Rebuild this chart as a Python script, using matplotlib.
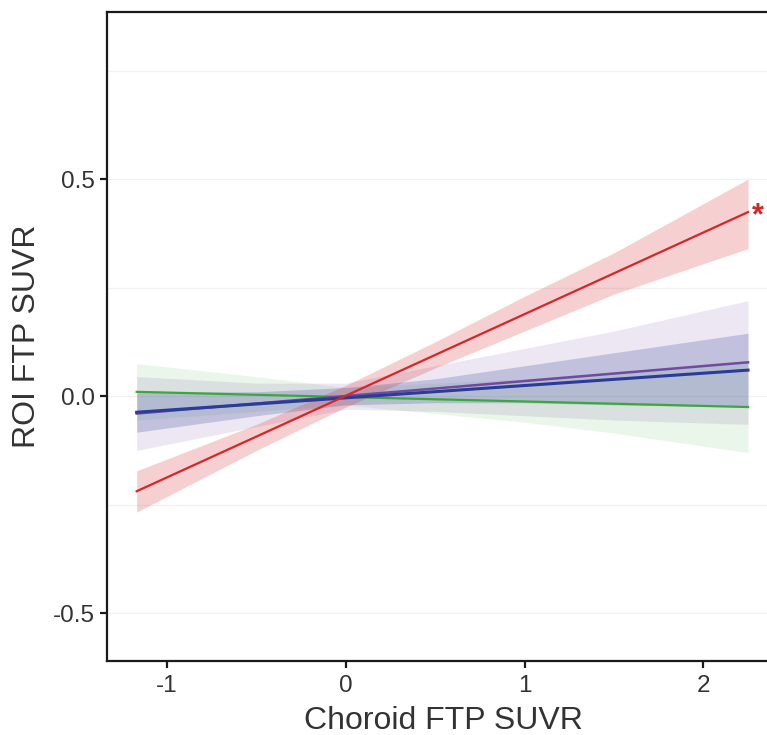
# plot.py - ROI FTP SUVR vs choroid FTP SUVR, fitted lines with CI bands

import matplotlib.pyplot as plt

plt.rcParams['font.family'] = ['Liberation Sans', 'DejaVu Sans']
plt.rcParams['axes.unicode_minus'] = False

# line end points (x range of the fits)
x_fit = [-1.17, 2.25]
red_fit = [-0.219, 0.424]
green_fit = [0.010, -0.025]
blue_fit = [-0.037, 0.060]
purple_fit = [-0.040, 0.078]

# confidence bands read at a few x positions
x_band = [-1.17, -0.5, 0.0, 0.5, 1.0, 1.5, 2.25]
red_lo = [-0.267, -0.125, -0.025, 0.065, 0.150, 0.235, 0.340]
red_hi = [-0.172, -0.065, 0.025, 0.125, 0.230, 0.330, 0.500]
blue_lo = [-0.083, -0.045, -0.020, -0.015, -0.015, -0.020, -0.025]
blue_hi = [0.010, 0.010, 0.020, 0.040, 0.070, 0.100, 0.145]
purple_lo = [-0.125, -0.070, -0.030, -0.035, -0.045, -0.055, -0.065]
purple_hi = [0.045, 0.030, 0.030, 0.070, 0.110, 0.150, 0.220]
green_lo = [-0.055, -0.035, -0.020, -0.040, -0.060, -0.085, -0.130]
green_hi = [0.075, 0.045, 0.020, 0.030, 0.040, 0.055, 0.080]

RED = '#d7262a'
GREEN = '#3aa93a'
BLUE = '#2a3c98'
PURPLE = '#6f4a9e'

fig = plt.figure(figsize=(7.67, 7.35), dpi=100)
# axes run past the right edge of the figure (reference is cropped there)
ax = fig.add_axes([0.1395, 0.1007, 0.894, 0.883])

ax.fill_between(x_band, green_lo, green_hi, color=GREEN, alpha=0.10, lw=0)
ax.fill_between(x_band, purple_lo, purple_hi, color=PURPLE, alpha=0.13, lw=0)
ax.fill_between(x_band, blue_lo, blue_hi, color=BLUE, alpha=0.22, lw=0)
ax.fill_between(x_band, red_lo, red_hi, color=RED, alpha=0.22, lw=0)

ax.plot(x_fit, green_fit, color=GREEN, lw=1.6)
ax.plot(x_fit, purple_fit, color=PURPLE, lw=1.8)
ax.plot(x_fit, blue_fit, color=BLUE, lw=2.2)
ax.plot(x_fit, red_fit, color=RED, lw=1.6)

ax.text(2.305, 0.415, '*', color=RED, fontsize=22, fontweight='bold',
        ha='center', va='center', clip_on=False)

ax.set_xlim(-1.336, 2.5)
ax.set_ylim(-0.61, 0.885)
ax.set_xticks([-1, 0, 1, 2])
ax.set_yticks([-0.5, 0.0, 0.5])
ax.set_yticks([-0.25, 0.25, 0.75], minor=True)
ax.tick_params(axis='y', which='minor', length=0)
ax.grid(axis='y', which='both', color='#f1f1f1', lw=0.9)
ax.set_axisbelow(True)

for s in ax.spines.values():
    s.set_linewidth(1.6)
    s.set_color('#1a1a1a')
ax.tick_params(which='major', length=5, width=1.6, labelsize=17.5,
               colors='#1a1a1a', labelcolor='#333333')
ax.tick_params(axis='x', pad=5)

ax.set_xlabel('Choroid FTP SUVR', fontsize=23, color='#333333', va='top')
ax.xaxis.set_label_coords(0.491, -0.07)
ax.set_ylabel('ROI FTP SUVR', fontsize=23, color='#333333', labelpad=8)

plt.savefig('out.png', dpi=100)
